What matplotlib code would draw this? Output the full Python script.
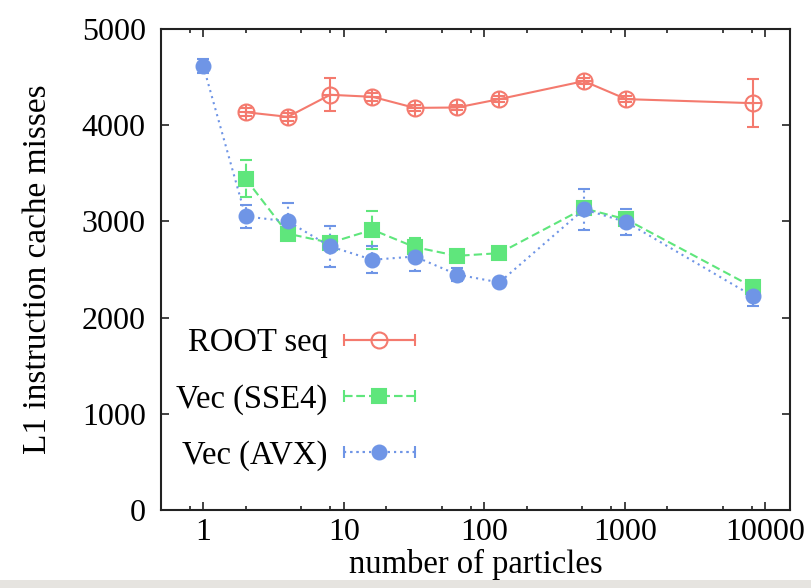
import numpy as np
import matplotlib
matplotlib.use("Agg")
import matplotlib.pyplot as plt
from matplotlib.ticker import LogLocator, FixedLocator, NullFormatter
from matplotlib.container import ErrorbarContainer
from matplotlib.legend_handler import HandlerErrorbar
from matplotlib.patches import Rectangle

# --- data ---
particles = [1, 2, 4, 8, 16, 32, 64, 128, 512, 1024, 8192]

root_x = particles[1:]
root_y = [4135, 4087, 4316, 4295, 4180, 4184, 4271, 4458, 4271, 4229]
root_err = [40, 40, 170, 40, 30, 30, 35, 30, 30, 250]

sse4_x = particles[1:]
sse4_y = [3444, 2872, 2778, 2913, 2733, 2642, 2670, 3135, 3021, 2316]
sse4_err = [190, 60, 60, 200, 90, 40, 40, 60, 50, 40]

avx_x = particles
avx_y = [4615, 3052, 3000, 2740, 2601, 2635, 2448, 2365, 3125, 2993, 2222]
avx_err = [70, 120, 190, 210, 140, 150, 70, 30, 210, 135, 100]

labels = ["ROOT seq", "Vec (SSE4)", "Vec (AVX)"]
red, green, blue = "#f47a6e", "#5fe67c", "#6f95e6"

plt.rcParams["font.family"] = ["Liberation Serif", "DejaVu Serif"]

fig = plt.figure(figsize=(8.11, 5.88), dpi=100)
ax = fig.add_axes([161 / 811, 1 - 510 / 588, (790 - 161) / 811, (510 - 29) / 588])

# gnuplot-ish yerrorlines
def errline(x, y, err, color, ls, marker, ms, mfc):
    c = ax.errorbar(x, y, yerr=err, color=color, ls=ls, lw=1.5, marker=marker,
                    ms=ms, mfc=mfc, mec=color, mew=1.5, capsize=4, capthick=1.5,
                    elinewidth=1.5)
    for bar in c[2]:
        bar.set_linestyle(ls)
    return c

errline(root_x, root_y, root_err, red, "-", "o", 11.5, "none")
ax.plot(root_x, root_y, ls="none", marker="+", ms=11.5, mew=1.5, color=red)
errline(sse4_x, sse4_y, sse4_err, green, (0, (4, 2)), "s", 10.5, green)
errline(avx_x, avx_y, avx_err, blue, (0, (1, 2)), "o", 10, blue)

ax.set_xscale("log")
ax.set_xlim(0.5, 15000)
ax.set_ylim(0, 5000)
ax.set_yticks(np.arange(0, 5001, 1000))
ax.xaxis.set_major_locator(FixedLocator([1, 10, 100, 1000, 10000]))
ax.set_xticklabels(["1", "10", "100", "1000", "10000"])
ax.xaxis.set_minor_locator(LogLocator(base=10, subs=[2, 5, 8], numticks=20))
ax.xaxis.set_minor_formatter(NullFormatter())

ax.tick_params(which="both", direction="in", top=True, right=True, labelsize=23,
               width=1.2, color="#222222")
ax.tick_params(which="major", length=6)
ax.tick_params(which="minor", length=3)
ax.tick_params(axis="x", pad=6)
ax.tick_params(axis="y", pad=11)
for s in ax.spines.values():
    s.set_linewidth(1.5)
    s.set_color("#222222")

ax.set_xlabel("number of particles", fontsize=23.5, labelpad=1)
ax.set_ylabel("L1 instruction cache misses", fontsize=24, labelpad=21)

# legend: text on the left, line + marker + end caps on the right
proxies = []
for color, ls, marker, ms, mfc in [(red, "-", "o", 11.5, "none"),
                                   (green, (0, (4, 2)), "s", 10.5, green),
                                   (blue, (0, (1, 2)), "o", 10, blue)]:
    c = ax.errorbar([np.nan], [np.nan], xerr=[1], color=color, ls=ls, lw=1.5,
                    marker=marker, ms=ms, mfc=mfc, mec=color, mew=1.5,
                    capsize=4, capthick=1.5, elinewidth=1.5)
    for bar in c[2]:
        bar.set_linestyle(ls)
    proxies.append(c)

leg = ax.legend(proxies, labels, markerfirst=False, frameon=False, fontsize=23.5,
                handlelength=2.18, handletextpad=0.5, labelspacing=0.78,
                borderpad=0, borderaxespad=0, loc="upper right",
                bbox_to_anchor=(415 / 811, 1 - 328 / 588),
                bbox_transform=fig.transFigure,
                handler_map={ErrorbarContainer: HandlerErrorbar(xerr_size=1.09)})
for t in leg.get_texts():
    t.set_ha("right")

# grey strip at the bottom of the screenshot
fig.patches.append(Rectangle((0, 0), 1, 8 / 588, transform=fig.transFigure,
                             facecolor="#e6e4e0", edgecolor="none", zorder=-1))

fig.savefig("out.png", dpi=100)
